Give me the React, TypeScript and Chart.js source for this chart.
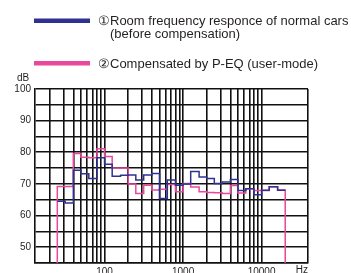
import React, { useEffect, useRef } from 'react';
import { Chart, registerables } from 'chart.js';

Chart.register(...registerables);

// 1/3-octave band edges (Hz)
const bandEdgesHz = [25, 31.5, 40, 50, 63, 80, 100, 125, 160, 200, 250, 315, 400, 500, 630, 800, 1000, 1250, 1600, 2000, 2500, 3150, 4000, 5000, 6300, 8000, 10000, 12500, 16000, 20000];
// band levels (dB), one per band
const beforeDb = [64.5, 64.0, 74.3, 73.2, 71.7, 78.3, 76.2, 72.4, 72.7, 72.8, 71.2, 72.8, 73.3, 65.4, 71.2, 69.6, 70.0, 73.9, 72.2, 71.7, 70.1, 70.6, 71.4, 67.9, 68.5, 66.6, 68.0, 69.1, 68.0];
const compensatedDb = [69.2, 69.2, 79.6, 78.4, 78.3, 81.1, 78.7, 75.0, 75.0, 70.0, 67.0, 69.6, 68.1, 68.3, 69.8, 67.5, 70.1, 69.0, 67.5, 67.3, 67.2, 67.0, 69.5, 67.1, 68.5, 67.9, 67.9, 69.1, 68.1];

const legendBefore = ['①Room frequency responce of normal cars', '(before compensation)'];
const legendCompensated = ['②Compensated by P-EQ (user-mode)'];

const gridHz = [20, 30, 40, 50, 60, 70, 80, 90, 100, 200, 300, 400, 500, 600, 700, 800, 900, 1000, 2000, 3000, 4000, 5000, 6000, 7000, 8000, 9000, 10000];
const labeledHz = [100, 1000, 10000];
const xMin = 13;
const xMax = 39000;
const yMin = 45;
const yMax = 100;
const yLabeled = [50, 60, 70, 80, 90, 100];

const NAVY = '#2e3192';
const PINK = '#e9489b';
const INK = '#231f20';
const GRID = '#111111';
const FONT = '"Liberation Sans", Arial, sans-serif';

function stepPoints(values: number[], dropToFloor: boolean) {
  const pts: { x: number; y: number }[] = [];
  if (dropToFloor) pts.push({ x: bandEdgesHz[0], y: yMin - 2 });
  values.forEach((v, i) => pts.push({ x: bandEdgesHz[i], y: v }));
  pts.push({ x: bandEdgesHz[bandEdgesHz.length - 1], y: values[values.length - 1] });
  if (dropToFloor) pts.push({ x: bandEdgesHz[bandEdgesHz.length - 1], y: yMin - 2 });
  return pts;
}

const overlayPlugin = {
  id: 'overlay',
  afterDraw(chart: any) {
    const ctx = chart.ctx as CanvasRenderingContext2D;
    ctx.save();
    // legend
    ctx.fillStyle = NAVY;
    ctx.fillRect(34, 18.5, 56, 4.5);
    ctx.fillStyle = PINK;
    ctx.fillRect(34, 61, 56, 4.5);
    ctx.fillStyle = INK;
    ctx.font = `13px ${FONT}`;
    ctx.textBaseline = 'middle';
    ctx.textAlign = 'left';
    ctx.fillText(legendBefore[0], 98, 21);
    ctx.fillText(legendBefore[1], 110, 34.5);
    ctx.fillText(legendCompensated[0], 98, 64.5);
    // axis units
    ctx.font = `10px ${FONT}`;
    ctx.fillText('dB', 17, 78.5);
    ctx.textAlign = 'right';
    ctx.textBaseline = 'top';
    ctx.fillText('Hz', 308, 265.5);
    ctx.restore();
  },
};

export default function App() {
  const ref = useRef<HTMLCanvasElement | null>(null);
  useEffect(() => {
    if (!ref.current) return;
    const chart = new Chart(ref.current, {
      type: 'line',
      data: {
        datasets: [
          {
            label: legendBefore.join(' '),
            data: stepPoints(beforeDb, false),
            borderColor: NAVY,
            borderWidth: 1.5,
            pointRadius: 0,
            stepped: 'before',
            fill: false,
          },
          {
            label: legendCompensated[0],
            data: stepPoints(compensatedDb, true),
            borderColor: PINK,
            borderWidth: 1.5,
            pointRadius: 0,
            stepped: 'before',
            fill: false,
          },
        ],
      },
      options: {
        animation: false,
        responsive: false,
        devicePixelRatio: 1,
        layout: { padding: { top: 89, right: 43, left: 0, bottom: 0 } },
        plugins: { legend: { display: false }, tooltip: { enabled: false } },
        scales: {
          x: {
            type: 'logarithmic',
            min: xMin,
            max: xMax,
            afterBuildTicks: (scale: any) => {
              scale.ticks = [...gridHz, xMax].map((v) => ({ value: v }));
            },
            afterFit: (scale: any) => {
              scale.height = 27;
            },
            grid: { color: GRID, lineWidth: 1.6, drawTicks: false },
            border: { color: GRID, width: 1.6 },
            ticks: {
              autoSkip: false,
              maxRotation: 0,
              padding: 3,
              color: INK,
              font: { family: FONT, size: 10 },
              callback: (v: any) => (labeledHz.includes(Number(v)) ? String(v) : ''),
            },
          },
          y: {
            min: yMin,
            max: yMax,
            afterBuildTicks: (scale: any) => {
              const t: { value: number }[] = [];
              for (let v = yMin; v <= yMax; v += 5) t.push({ value: v });
              scale.ticks = t;
            },
            afterFit: (scale: any) => {
              scale.width = 35;
            },
            grid: { color: GRID, lineWidth: 1.6, drawTicks: false },
            border: { color: GRID, width: 1.6 },
            ticks: {
              padding: 4,
              color: INK,
              font: { family: FONT, size: 10 },
              callback: (v: any) => (yLabeled.includes(Number(v)) ? String(v) : ''),
            },
          },
        },
      },
      plugins: [overlayPlugin],
    });
    return () => chart.destroy();
  }, []);
  return (
    <div style={{ position: 'fixed', left: 0, top: 0, width: 351, height: 273, overflow: 'hidden', background: '#fff' }}>
      <canvas ref={ref} width={351} height={290} style={{ display: 'block', width: 351, height: 290 }} />
    </div>
  );
}
